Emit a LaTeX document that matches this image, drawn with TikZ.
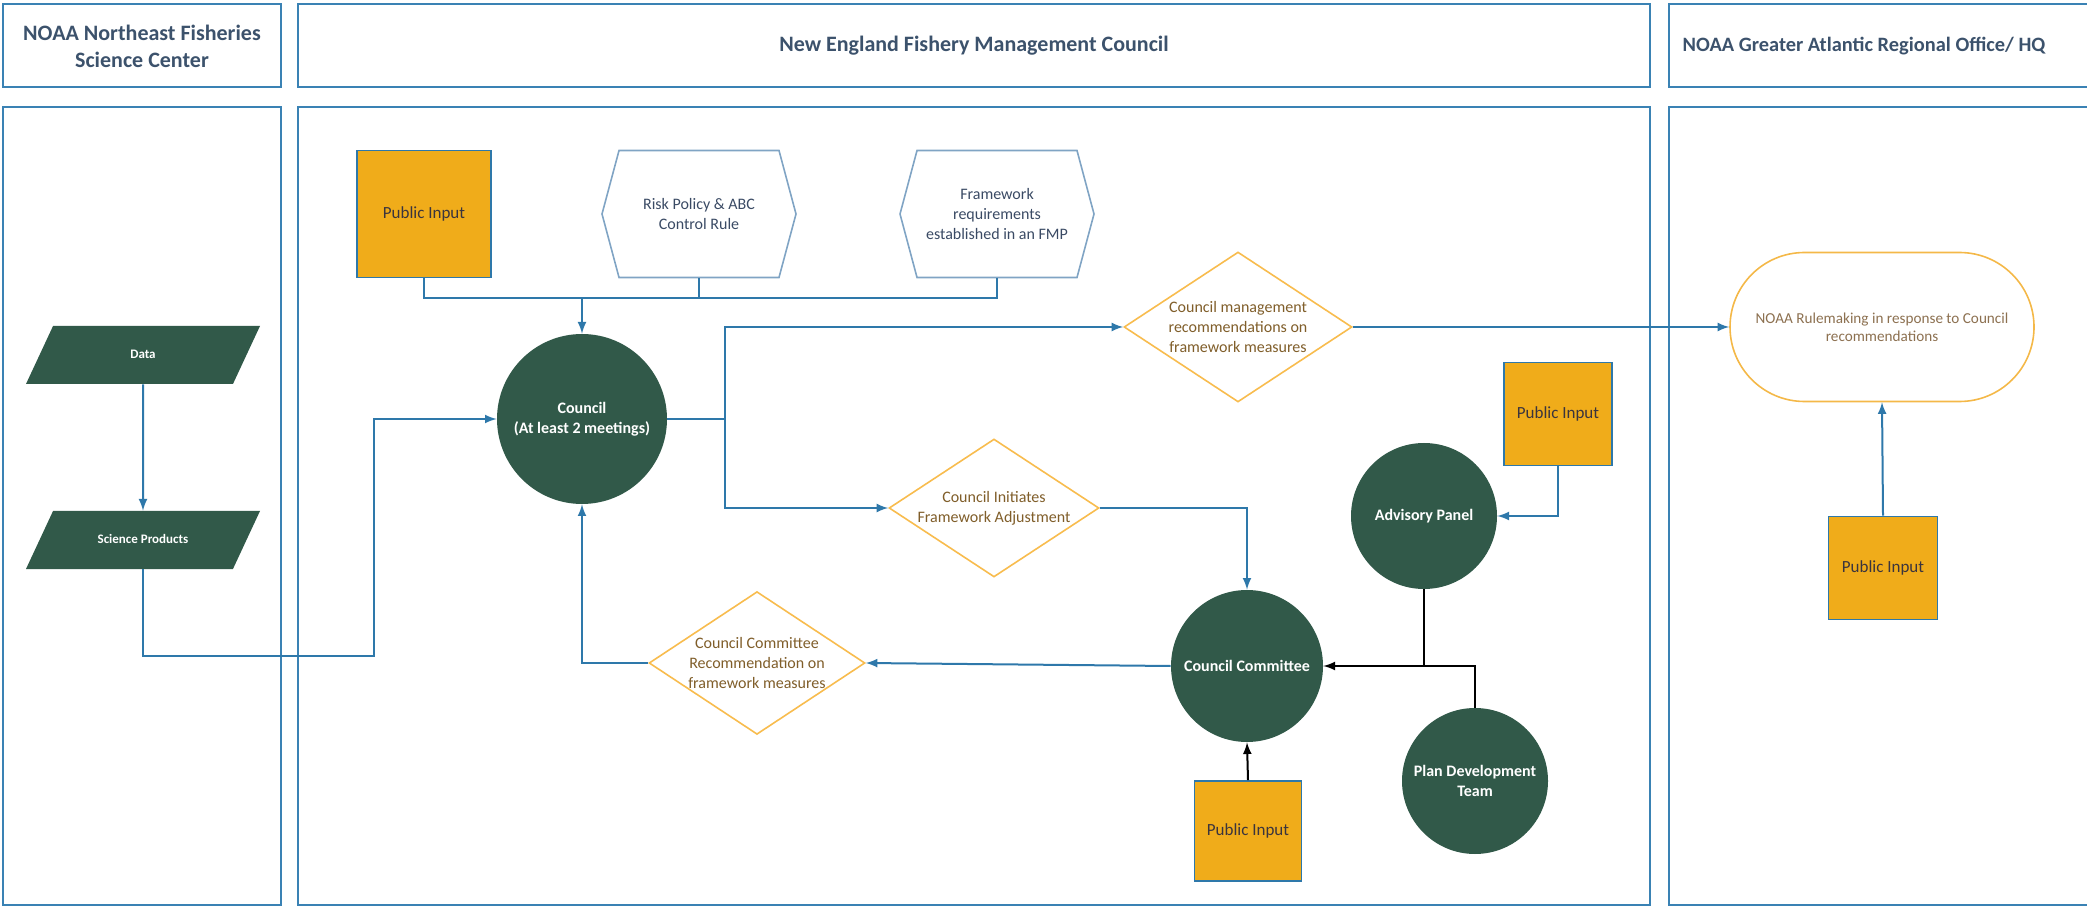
\documentclass[tikz,border=0pt]{standalone}
\usepackage{fontspec}
\setmainfont{Carlito}
\usetikzlibrary{arrows.meta,positioning,shapes.geometric,shapes.misc,shapes.symbols}

\definecolor{lanecol}{RGB}{58,130,180}
\definecolor{linkcol}{RGB}{46,120,170}
\definecolor{headcol}{RGB}{60,82,108}
\definecolor{greencol}{RGB}{49,89,73}
\definecolor{goldcol}{RGB}{240,172,26}
\definecolor{pubtext}{RGB}{58,52,62}
\definecolor{diacol}{RGB}{248,188,78}
\definecolor{diatext}{RGB}{128,94,42}
\definecolor{hexcol}{RGB}{128,164,196}
\definecolor{hextext}{RGB}{58,74,100}
\definecolor{rulecol}{RGB}{244,184,72}
\definecolor{ruletext}{RGB}{140,112,80}

\tikzset{
    lane/.style={draw=lanecol, line width=1pt},
    headtxt/.style={font=\bfseries\fontsize{11}{13.5}\selectfont, text=headcol, align=center},
    pubbox/.style={rectangle, draw=linkcol, fill=goldcol, line width=0.8pt, inner sep=0pt,
        font=\fontsize{8.5}{10}\selectfont, text=pubtext},
    greenball/.style={circle, fill=greencol, text=white, inner sep=0pt, align=center,
        font=\bfseries\fontsize{8}{10}\selectfont},
    decision/.style={diamond, draw=diacol, line width=0.8pt, fill=white, aspect=1.5,
        inner sep=0pt, align=center, text=diatext, font=\fontsize{8}{10}\selectfont},
    policy/.style={signal, signal to=west and east, signal pointer angle=150, draw=hexcol,
        line width=0.8pt, inner sep=0pt, align=center, text=hextext,
        font=\fontsize{8}{10}\selectfont, minimum width=97pt, minimum height=63.5pt},
    datain/.style={trapezium, trapezium left angle=65, trapezium right angle=115,
        trapezium stretches body, fill=greencol, text=white, inner xsep=0pt,
        text height=5pt, text depth=1.5pt, inner ysep=11.25pt,
        minimum width=117pt, font=\bfseries\fontsize{6.5}{8}\selectfont},
    rulebox/.style={rounded rectangle, draw=rulecol, line width=0.8pt, align=center,
        inner sep=0pt, minimum width=152pt, minimum height=74.5pt, text=ruletext,
        font=\fontsize{7.6}{9}\selectfont},
    link/.style={draw=linkcol, line width=1pt},
    blacklink/.style={draw=black, line width=1pt},
}

\begin{document}
\begin{tikzpicture}[x=0.5pt, y=-0.5pt]
    \useasboundingbox (0,0) rectangle (2087,908);
    \clip (0,0) rectangle (2087,908);

    % swim lanes
    \draw[lane] (3,4) rectangle (281,87);
    \draw[lane] (298,4) rectangle (1650,87);
    \draw[lane] (1669,4) rectangle (2120,87);
    \draw[lane] (3,107) rectangle (281,905);
    \draw[lane] (298,107) rectangle (1650,905);
    \draw[lane] (1669,107) rectangle (2120,905);
    \node[headtxt] (hdfsc) at (142,46) {NOAA Northeast Fisheries\\Science Center};
    \node[headtxt] (hdcouncil) at (974,46) {New England Fishery Management Council};
    \node[headtxt, font=\bfseries\fontsize{10.2}{12}\selectfont] (hdgaro) at (1864,46)
        {NOAA Greater Atlantic Regional Office/ HQ};

    % science center
    \node[datain] (data) at (143,355) {Data};
    \node[datain] (science) at (143,540) {Science Products};
    \coordinate (spbend) at (374,656);

    % council
    \node[pubbox, minimum width=67pt, minimum height=63.5pt] (pubtop) at (424,214) {Public Input};
    \node[policy] (risk) at (699,214) {Risk Policy \& ABC\\Control Rule};
    \node[policy] (fmp) at (997,214) {Framework\\requirements\\established in an FMP};
    \node[greenball, minimum size=85pt] (council) at (582,419) {Council\\(At least 2 meetings)};
    \coordinate (topjoin) at (council.north |- 0,298);
    \coordinate (split) at (725,419);

    \node[decision, minimum width=114pt, minimum height=75pt] (manage) at (1238,327)
        {Council management\\recommendations on\\framework measures};
    \node[decision, minimum width=105pt, minimum height=69pt] (initiate) at (994,508)
        {Council Initiates\\Framework Adjustment};
    \node[decision, minimum width=108pt, minimum height=70pt] (ccrec) at (757,663)
        {Council Committee\\Recommendation on\\framework measures};

    \node[greenball, minimum size=76pt] (committee) at (1247,666) {Council Committee};
    \node[greenball, minimum size=73pt] (advisory) at (1424,516) {Advisory Panel};
    \node[greenball, minimum size=73pt] (pdt) at (1475,781) {Plan Development\\Team};
    \node[pubbox, minimum width=54pt, minimum height=51.5pt] (pubap) at (1558,414) {Public Input};
    \node[pubbox, minimum width=53.5pt, minimum height=50pt] (pubcc) at (1248,831) {Public Input};

    % regional office
    \node[rulebox] (rulemaking) at (1882,327) {NOAA Rulemaking in response to Council\\recommendations};
    \node[pubbox, minimum width=54.5pt, minimum height=51.5pt] (pubro) at (1883,568) {Public Input};

    % connectors
    \draw[link, -latex] (data) -- (science);
    \draw[link, -latex] (science.south) |- (spbend) |- (council.west);
    \draw[link] (pubtop.south) |- (fmp.south |- topjoin) -- (fmp.south);
    \draw[link] (risk.south) -- (risk.south |- topjoin);
    \draw[link, -latex] (topjoin) -- (council.north);
    \draw[link] (council.east) -- (split);
    \draw[link, -latex] (split) |- (manage.west);
    \draw[link, -latex] (split) |- (initiate.west);
    \draw[link, -latex] (manage.east) -- (rulemaking.west);
    \draw[link, -latex] (pubro.north) -- (rulemaking.south);
    \draw[link, -latex] (initiate.east) -| (committee.north);
    \draw[link, -latex] (committee.west) -- (ccrec.east);
    \draw[link, -latex] (ccrec.west) -| (council.south);
    \draw[link, -latex] (pubap.south) |- (advisory.east);
    \draw[blacklink] (advisory.south) -- (advisory.south |- committee.east);
    \draw[blacklink, -latex] (pdt.north) |- (committee.east);
    \draw[blacklink, -latex] (pubcc.north) -- (committee.south);
\end{tikzpicture}
\end{document}
